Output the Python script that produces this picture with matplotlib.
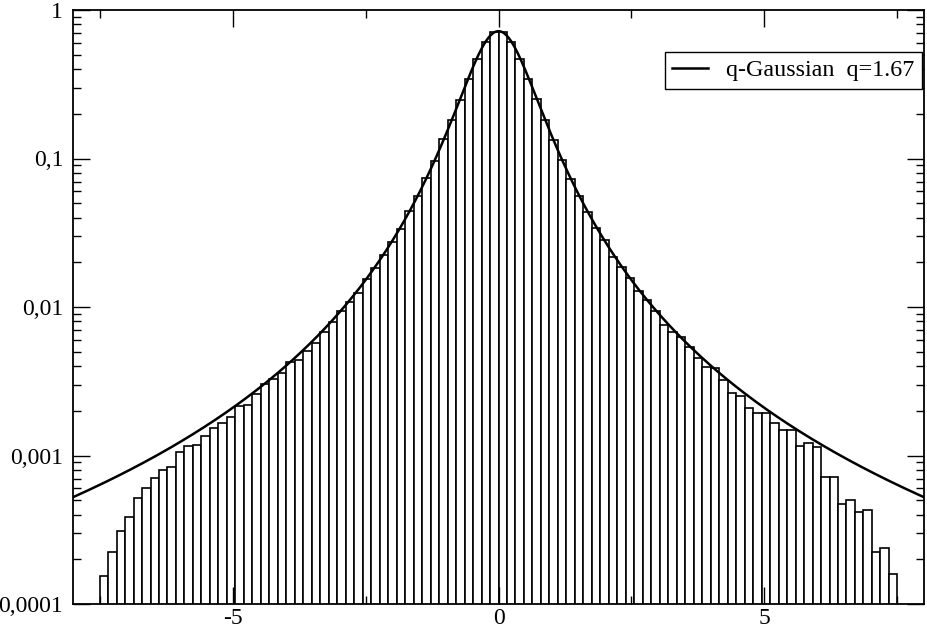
import numpy as np
import matplotlib
matplotlib.use('Agg')
import matplotlib.pyplot as plt
from matplotlib.ticker import FixedLocator, MultipleLocator, LogLocator, NullFormatter

plt.rcParams['font.family'] = ['Liberation Serif', 'DejaVu Serif']

# histogram: 94 bins between -7.5 and 7.5
bin_lo, bin_hi, n_bins = -7.5, 7.5, 94
heights = [
    1.44e-4, 2.13e-4, 3.00e-4, 3.78e-4, 5.08e-4, 5.93e-4, 6.97e-4, 7.92e-4, 8.26e-4, 1.04e-3,
    1.14e-3, 1.17e-3, 1.35e-3, 1.52e-3, 1.65e-3, 1.80e-3, 2.14e-3, 2.17e-3, 2.59e-3, 3.00e-3,
    3.27e-3, 3.60e-3, 4.24e-3, 4.37e-3, 5.08e-3, 5.73e-3, 6.75e-3, 7.88e-3, 9.46e-3, 1.08e-2,
    1.24e-2, 1.55e-2, 1.82e-2, 2.24e-2, 2.75e-2, 3.36e-2, 4.40e-2, 5.57e-2, 7.35e-2, 9.60e-2,
    0.135, 0.181, 0.247, 0.342, 0.466, 0.609, 0.712,
    0.712, 0.609, 0.466, 0.342, 0.250, 0.1815, 0.1324, 9.75e-2, 7.23e-2, 5.57e-2,
    4.33e-2, 3.38e-2, 2.82e-2, 2.17e-2, 1.85e-2, 1.56e-2, 1.28e-2, 1.11e-2, 9.35e-3, 7.50e-3,
    6.75e-3, 6.25e-3, 5.38e-3, 4.54e-3, 3.92e-3, 3.88e-3, 3.21e-3, 2.64e-3, 2.50e-3, 2.09e-3,
    1.91e-3, 1.91e-3, 1.65e-3, 1.47e-3, 1.47e-3, 1.15e-3, 1.20e-3, 1.13e-3, 7.11e-4, 7.11e-4,
    4.58e-4, 4.95e-4, 4.06e-4, 4.17e-4, 2.13e-4, 2.30e-4, 1.49e-4,
]

# q-Gaussian fit
q = 1.67
beta = 2.93
amp = 0.72

ytick_vals = [1e-4, 1e-3, 1e-2, 1e-1, 1]
ytick_labels = ['0,0001', '0,001', '0,01', '0,1', '1']
xtick_vals = [-5, 0, 5]
xtick_labels = ['-5', '0', '5']

edges = np.linspace(bin_lo, bin_hi, n_bins + 1)
centers = 0.5 * (edges[:-1] + edges[1:])
width = edges[1] - edges[0]

xs = np.linspace(-8, 8, 800)
curve = amp * (1 + (q - 1) * beta * xs**2) ** (-1 / (q - 1))

fig = plt.figure(figsize=(9.27, 6.32), dpi=100)
ax = fig.add_axes([73/927, 28/632, 851/927, 594/632])

ax.bar(centers, heights, width=width, bottom=1e-5, color='white',
       edgecolor='black', linewidth=1.2)
ax.plot(xs, curve, color='black', lw=1.8, label='q-Gaussian  q=1.67')

ax.set_yscale('log')
ax.set_xlim(-8, 8)
ax.set_ylim(1e-4, 1)

ax.xaxis.set_major_locator(FixedLocator(xtick_vals))
ax.set_xticklabels(xtick_labels)
ax.xaxis.set_minor_locator(MultipleLocator(2.5))
ax.yaxis.set_major_locator(FixedLocator(ytick_vals))
ax.set_yticklabels(ytick_labels)
ax.yaxis.set_minor_locator(LogLocator(base=10, subs=np.arange(2, 10), numticks=20))
ax.yaxis.set_minor_formatter(NullFormatter())

ax.tick_params(which='both', direction='in', top=True, right=True,
               labelsize=17, width=1.0, color='black')
ax.tick_params(which='major', length=12)
ax.tick_params(which='minor', length=6)
ax.tick_params(axis='y', which='major', pad=7)
ax.tick_params(axis='x', which='major', pad=3)
for s in ax.spines.values():
    s.set_linewidth(1.3)

leg = ax.legend(loc='upper right', bbox_to_anchor=(0.9977, 0.929), borderaxespad=0,
                fancybox=False, edgecolor='black', framealpha=1, fontsize=17.4,
                handlelength=1.5, handletextpad=0.75, borderpad=0.3)
leg.get_frame().set_linewidth(1.0)

fig.savefig('out.png', dpi=100)
